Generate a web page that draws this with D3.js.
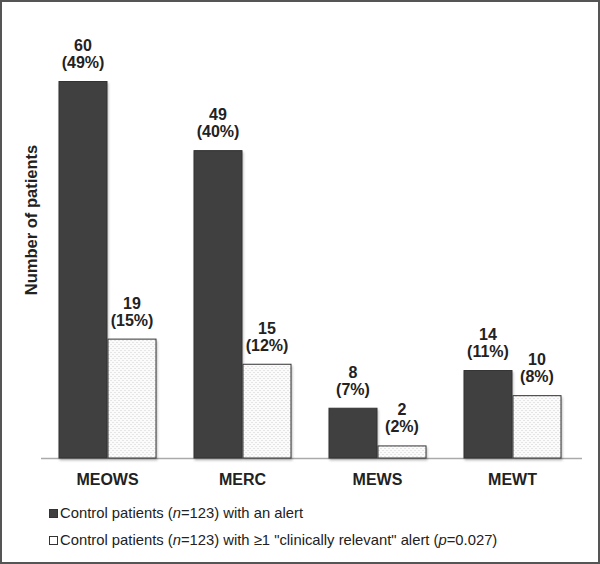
<!DOCTYPE html>
<meta charset="utf-8">
<title>Patients with alerts by score</title>
<style>
  body { margin: 0; background: #fff; }
  text { font-family: "Liberation Sans", Arial, sans-serif; fill: #222; }
  .val { font-size: 16px; font-weight: bold; }
  .cat { font-size: 16px; font-weight: bold; }
  .ylab { font-size: 16.5px; font-weight: bold; }
  .leg { font-size: 14.8px; }
</style>
<body>
<script src="https://cdnjs.cloudflare.com/ajax/libs/d3/7.8.5/d3.min.js"></script>
<script>
  // data
  var categories = ["MEOWS", "MERC", "MEWS", "MEWT"];
  var alertCounts = [60, 49, 8, 14];
  var alertPcts = ["49%", "40%", "7%", "11%"];
  var relevantCounts = [19, 15, 2, 10];
  var relevantPcts = ["15%", "12%", "2%", "8%"];
  var seriesKeys = ["alert", "relevant"];

  var width = 600, height = 564;

  var svg = d3.select("body").append("svg")
    .attr("width", width)
    .attr("height", height);

  // dotted fill
  var defs = svg.append("defs");
  var pat = defs.append("pattern")
    .attr("id", "dots")
    .attr("patternUnits", "userSpaceOnUse")
    .attr("width", 4).attr("height", 4);
  pat.append("rect").attr("width", 4).attr("height", 4).attr("fill", "#fbfbfb");
  pat.append("rect").attr("x", 0).attr("y", 0).attr("width", 1).attr("height", 1).attr("fill", "#cfcfcf");
  pat.append("rect").attr("x", 2).attr("y", 2).attr("width", 1).attr("height", 1).attr("fill", "#cfcfcf");

  // soft shadow under bars
  var flt = defs.append("filter").attr("id", "shadow")
    .attr("x", "-10%").attr("y", "-10%").attr("width", "130%").attr("height", "130%");
  flt.append("feDropShadow")
    .attr("dx", 1).attr("dy", 2).attr("stdDeviation", 1.2)
    .attr("flood-color", "#000").attr("flood-opacity", 0.25);

  // frame
  svg.append("rect")
    .attr("x", 1).attr("y", 1)
    .attr("width", width - 2).attr("height", height - 2)
    .attr("fill", "none")
    .attr("stroke", "#555")
    .attr("stroke-width", 2);

  var baseY = 458;

  var x = d3.scaleBand()
    .domain(categories)
    .range([40, 580])
    .paddingInner(0.274)
    .paddingOuter(0.137);

  var xs = d3.scaleBand()
    .domain(seriesKeys)
    .range([0, x.bandwidth()]);

  var y = d3.scaleLinear()
    .domain([0, 60])
    .range([baseY, 81]);

  var rows = categories.map(function(c, i) {
    return [
      {cat: c, key: "alert", v: alertCounts[i], p: alertPcts[i]},
      {cat: c, key: "relevant", v: relevantCounts[i], p: relevantPcts[i]}
    ];
  });

  // baseline
  svg.append("line")
    .attr("x1", 41).attr("x2", 582)
    .attr("y1", baseY + 0.5).attr("y2", baseY + 0.5)
    .attr("stroke", "#aaa")
    .attr("stroke-width", 1.5);

  var groups = svg.selectAll(".grp")
    .data(rows)
    .enter().append("g")
    .attr("class", "grp")
    .attr("transform", function(d) { return "translate(" + x(d[0].cat) + ",0)"; });

  groups.append("g")
    .attr("filter", "url(#shadow)")
    .selectAll("rect")
    .data(function(d) { return d; })
    .enter().append("rect")
    .attr("x", function(d) { return xs(d.key) + 0.5; })
    .attr("y", function(d) { return y(d.v) + 0.5; })
    .attr("width", xs.bandwidth() - 1)
    .attr("height", function(d) { return baseY - y(d.v) - 0.5; })
    .attr("fill", function(d) { return d.key == "alert" ? "#404040" : "url(#dots)"; })
    .attr("stroke", "#333")
    .attr("stroke-width", 1);

  var labels = groups.selectAll(".val")
    .data(function(d) { return d; })
    .enter().append("text")
    .attr("class", "val")
    .attr("text-anchor", "middle");

  labels.append("tspan")
    .attr("x", function(d) { return xs(d.key) + xs.bandwidth() / 2; })
    .attr("y", function(d) { return y(d.v) - 30; })
    .text(function(d) { return d.v; });
  labels.append("tspan")
    .attr("x", function(d) { return xs(d.key) + xs.bandwidth() / 2; })
    .attr("y", function(d) { return y(d.v) - 13; })
    .text(function(d) { return "(" + d.p + ")"; });

  var xAxis = svg.append("g")
    .attr("transform", "translate(0," + baseY + ")")
    .call(d3.axisBottom(x).tickSize(0).tickPadding(0));
  xAxis.select(".domain").remove();
  xAxis.selectAll("text")
    .attr("class", "cat")
    .attr("dy", null)
    .attr("y", 27)
    .attr("font-family", null)
    .attr("font-size", null)
    .attr("fill", null);

  svg.append("text")
    .attr("class", "ylab")
    .attr("transform", "translate(37,220) rotate(-90)")
    .attr("text-anchor", "middle")
    .text("Number of patients");

  // legend
  var legend = svg.append("g").attr("transform", "translate(49,0)");
  var legItems = [
    {fill: "#404040", y: 518},
    {fill: "#fff", y: 545}
  ];
  legend.selectAll("rect")
    .data(legItems)
    .enter().append("rect")
    .attr("x", 0.5)
    .attr("y", function(d) { return d.y - 8.5; })
    .attr("width", 8).attr("height", 8)
    .attr("fill", function(d) { return d.fill; })
    .attr("stroke", "#333");

  var t1 = legend.append("text").attr("class", "leg").attr("x", 11).attr("y", 518);
  t1.append("tspan").text("Control patients (");
  t1.append("tspan").attr("font-style", "italic").text("n");
  t1.append("tspan").text("=123) with an alert");

  var t2 = legend.append("text").attr("class", "leg").attr("x", 11).attr("y", 545);
  t2.append("tspan").text("Control patients (");
  t2.append("tspan").attr("font-style", "italic").text("n");
  t2.append("tspan").text("=123) with \u22651 \"clinically relevant\" alert (");
  t2.append("tspan").attr("font-style", "italic").text("p");
  t2.append("tspan").text("=0.027)");
</script>
</body>
